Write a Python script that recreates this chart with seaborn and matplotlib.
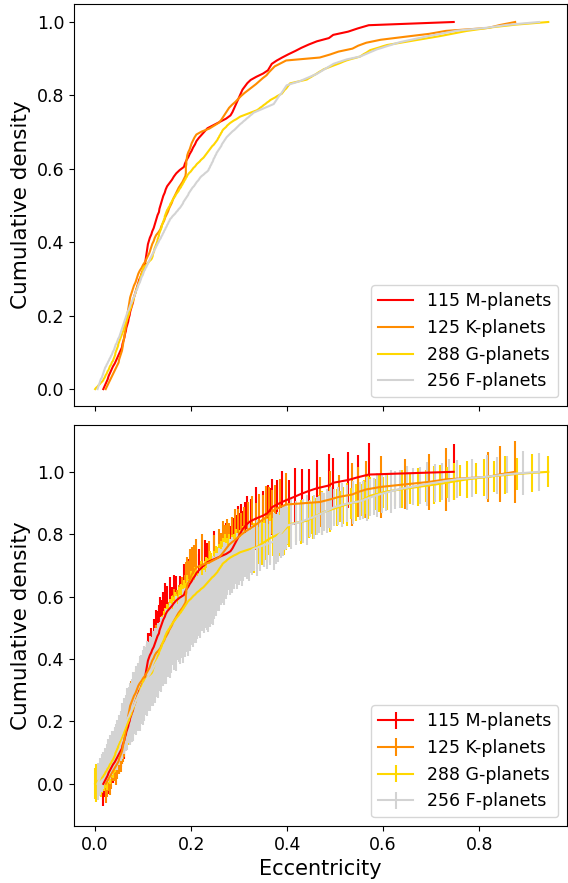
import numpy as np
import pandas as pd
import matplotlib
matplotlib.use("Agg")
import matplotlib.pyplot as plt
import seaborn as sns

# ---------------- data (sorted eccentricities) ----------------
labels = ["115 M-planets", "125 K-planets", "288 G-planets", "256 F-planets"]
colors = ["red", "darkorange", "gold", "lightgray"]

ecc_M = [0.017, 0.020, 0.023, 0.026, 0.028, 0.031, 0.034, 0.037, 0.041, 0.044,
         0.047, 0.050, 0.053, 0.056, 0.057, 0.059, 0.061, 0.062, 0.064, 0.065,
         0.067, 0.069, 0.070, 0.072, 0.073, 0.075, 0.077, 0.079, 0.080, 0.082,
         0.084, 0.086, 0.088, 0.090, 0.092, 0.095, 0.097, 0.100, 0.102, 0.104,
         0.105, 0.106, 0.107, 0.108, 0.109, 0.110, 0.112, 0.114, 0.117, 0.119,
         0.122, 0.124, 0.126, 0.128, 0.130, 0.133, 0.134, 0.136, 0.138, 0.140,
         0.142, 0.145, 0.147, 0.150, 0.155, 0.160, 0.164, 0.169, 0.176, 0.185,
         0.187, 0.190, 0.194, 0.197, 0.201, 0.204, 0.208, 0.211, 0.216, 0.222,
         0.228, 0.234, 0.247, 0.260, 0.273, 0.282, 0.286, 0.289, 0.292, 0.295,
         0.298, 0.301, 0.304, 0.307, 0.312, 0.317, 0.324, 0.336, 0.350, 0.360,
         0.364, 0.368, 0.378, 0.390, 0.403, 0.417, 0.430, 0.445, 0.462, 0.487,
         0.496, 0.527, 0.547, 0.570, 0.747]

ecc_K = [0.022, 0.025, 0.028, 0.031, 0.034, 0.037, 0.040, 0.043, 0.046, 0.049,
         0.050, 0.052, 0.054, 0.056, 0.057, 0.058, 0.059, 0.060, 0.061, 0.062,
         0.063, 0.064, 0.065, 0.066, 0.067, 0.067, 0.068, 0.069, 0.070, 0.071,
         0.072, 0.073, 0.075, 0.077, 0.079, 0.081, 0.084, 0.086, 0.088, 0.090,
         0.093, 0.097, 0.100, 0.104, 0.107, 0.110, 0.113, 0.115, 0.117, 0.119,
         0.122, 0.124, 0.127, 0.132, 0.136, 0.138, 0.141, 0.144, 0.146, 0.149,
         0.152, 0.154, 0.157, 0.160, 0.162, 0.165, 0.168, 0.171, 0.174, 0.178,
         0.182, 0.185, 0.188, 0.189, 0.189, 0.189, 0.190, 0.190, 0.191, 0.192,
         0.194, 0.197, 0.199, 0.201, 0.204, 0.207, 0.211, 0.222, 0.238, 0.248,
         0.258, 0.263, 0.267, 0.271, 0.275, 0.279, 0.285, 0.292, 0.298, 0.304,
         0.311, 0.319, 0.327, 0.335, 0.342, 0.349, 0.357, 0.362, 0.368, 0.374,
         0.386, 0.398, 0.468, 0.489, 0.507, 0.536, 0.548, 0.565, 0.595, 0.645,
         0.696, 0.731, 0.819, 0.844, 0.875]

ecc_G = [0.000, 0.002, 0.005, 0.007, 0.010, 0.012, 0.015,
         0.017, 0.018, 0.020, 0.021, 0.022, 0.024, 0.025, 0.026, 0.028, 0.029, 0.030, 0.031, 0.033, 0.034, 0.035, 0.037,
         0.038, 0.039, 0.040, 0.041, 0.042, 0.042, 0.043, 0.044, 0.045, 0.046, 0.047, 0.048, 0.048, 0.049, 0.050, 0.051,
         0.052, 0.053, 0.054, 0.055, 0.056, 0.057, 0.058, 0.059, 0.060, 0.060, 0.061, 0.062, 0.063, 0.064, 0.065, 0.066, 0.067, 0.068,
         0.069, 0.070, 0.071, 0.071, 0.072, 0.073, 0.074, 0.075, 0.076, 0.076, 0.077, 0.078, 0.079, 0.080, 0.081, 0.081, 0.082,
         0.083, 0.084, 0.085, 0.085, 0.086, 0.087, 0.088, 0.089, 0.090, 0.091, 0.092, 0.093, 0.094, 0.094, 0.095, 0.096, 0.097, 0.098, 0.099, 0.099, 0.100,
         0.101, 0.103, 0.106, 0.108, 0.111, 0.113, 0.116,
         0.118, 0.119, 0.120, 0.120, 0.121, 0.122, 0.123, 0.123, 0.124, 0.125, 0.126, 0.127, 0.128, 0.129, 0.130, 0.130, 0.131, 0.132, 0.133, 0.133, 0.134,
         0.135, 0.136, 0.137, 0.138, 0.139, 0.139, 0.140, 0.141, 0.142, 0.143, 0.144, 0.145, 0.145, 0.146, 0.147, 0.148,
         0.149, 0.150, 0.152, 0.153, 0.155, 0.156, 0.157, 0.159, 0.160, 0.162,
         0.163, 0.165, 0.167, 0.168, 0.170, 0.172, 0.174, 0.175,
         0.177, 0.179, 0.180, 0.182, 0.183, 0.185, 0.186, 0.188, 0.189, 0.191, 0.192,
         0.194, 0.196, 0.199, 0.201, 0.203, 0.205, 0.208, 0.210,
         0.212, 0.215, 0.218, 0.220, 0.223,
         0.226, 0.228, 0.230, 0.232, 0.234, 0.236, 0.238,
         0.240, 0.242, 0.244, 0.247, 0.249, 0.251,
         0.253, 0.255, 0.256, 0.258, 0.259, 0.261, 0.262, 0.264, 0.265,
         0.267, 0.270, 0.273, 0.275, 0.278,
         0.281, 0.285, 0.289, 0.294, 0.298,
         0.302, 0.309, 0.316, 0.323, 0.330,
         0.337, 0.341, 0.344, 0.348, 0.351, 0.355, 0.358, 0.362,
         0.365, 0.370, 0.375, 0.379, 0.384,
         0.389, 0.391, 0.393, 0.395, 0.398, 0.400, 0.402, 0.404,
         0.406, 0.418, 0.429,
         0.441, 0.445, 0.450, 0.454, 0.459, 0.463, 0.467, 0.472,
         0.476, 0.483, 0.490,
         0.497, 0.504, 0.511, 0.517,
         0.524, 0.533, 0.543,
         0.552, 0.556, 0.560, 0.565, 0.569,
         0.573, 0.582, 0.591, 0.599,
         0.608, 0.624, 0.640,
         0.656, 0.672, 0.689,
         0.705, 0.719, 0.733,
         0.747, 0.761,
         0.774, 0.793, 0.811,
         0.830, 0.854,
         0.878, 0.911,
         0.944]

ecc_F = [0.005, 0.006, 0.007, 0.008, 0.009, 0.010, 0.011, 0.012, 0.014, 0.015, 0.016, 0.017, 0.018, 0.019, 0.020,
         0.021, 0.023, 0.024, 0.026, 0.027, 0.029, 0.030, 0.032, 0.033,
         0.035, 0.036, 0.037, 0.039, 0.040, 0.041, 0.042, 0.043, 0.045, 0.046, 0.047, 0.048, 0.050, 0.051,
         0.052, 0.053, 0.054, 0.055, 0.056, 0.057, 0.058, 0.059, 0.060, 0.061, 0.062, 0.063, 0.064, 0.065,
         0.066, 0.067, 0.068, 0.070, 0.071, 0.072, 0.073, 0.074, 0.076, 0.077, 0.078, 0.079, 0.081, 0.082,
         0.083, 0.084, 0.085, 0.087, 0.088, 0.089, 0.090, 0.091, 0.093, 0.094, 0.095, 0.096, 0.097, 0.099, 0.100,
         0.101, 0.102, 0.104, 0.105, 0.107, 0.108, 0.110, 0.111, 0.112, 0.114, 0.115, 0.117,
         0.118, 0.120, 0.121, 0.123, 0.124, 0.126, 0.127, 0.129, 0.130, 0.132, 0.133,
         0.135, 0.137, 0.138, 0.140, 0.141, 0.143, 0.144, 0.146, 0.147, 0.149, 0.150, 0.152, 0.153, 0.155,
         0.156, 0.159, 0.161, 0.164, 0.167, 0.169, 0.172, 0.174,
         0.177, 0.179, 0.181, 0.183, 0.184, 0.186, 0.188, 0.190, 0.192, 0.194, 0.195, 0.197, 0.199,
         0.201, 0.203, 0.206, 0.208, 0.210, 0.212, 0.215, 0.217,
         0.219, 0.222, 0.226, 0.229, 0.233,
         0.236, 0.237, 0.239, 0.240, 0.242, 0.243, 0.245, 0.246, 0.247, 0.249, 0.250, 0.252,
         0.253, 0.255, 0.257, 0.259, 0.261, 0.263, 0.264, 0.266, 0.268, 0.270, 0.272,
         0.274, 0.277, 0.280, 0.283, 0.286, 0.290, 0.293, 0.296, 0.299,
         0.302, 0.306, 0.309, 0.313, 0.316, 0.320, 0.323, 0.327,
         0.330, 0.337, 0.344, 0.351, 0.358, 0.365,
         0.372, 0.374, 0.376, 0.378, 0.380, 0.382, 0.384, 0.387, 0.389, 0.391, 0.393, 0.395, 0.397,
         0.399, 0.408, 0.418,
         0.427, 0.434, 0.441, 0.448, 0.455,
         0.462, 0.467, 0.472, 0.477, 0.482, 0.487, 0.492,
         0.497, 0.506, 0.515,
         0.524, 0.538,
         0.552, 0.559, 0.566, 0.573, 0.580,
         0.587, 0.597, 0.606, 0.616, 0.625,
         0.635, 0.649, 0.663, 0.677,
         0.691, 0.707, 0.723, 0.738,
         0.754, 0.785,
         0.816, 0.837,
         0.858, 0.891,
         0.925]

# eccentricity uncertainties in hundredths, one per planet
err_M = [7, 5, 4, 6, 3, 5, 4, 6, 5, 3, 4, 6, 5, 3, 4, 5, 6, 4, 3, 5,
         4, 6, 5, 7, 4, 5, 6, 3, 5, 6, 5, 4, 7, 6, 5, 8, 4, 6, 7, 5,
         6, 8, 5, 7, 6, 9, 5, 7, 8, 6, 9, 7, 10, 6, 8, 9, 7, 10, 8, 6,
         9, 11, 7, 8, 10, 6, 9, 8, 7, 10, 6, 8, 9, 7, 5, 8, 10, 6, 7, 9,
         8, 6, 9, 7, 10, 8, 6, 9, 7, 8, 10, 7, 9, 6, 8, 9, 7, 10, 8, 9,
         7, 9, 8, 10, 6, 9, 8, 7, 9, 10, 8, 9, 7, 10, 9]
err_K = [6, 5, 4, 6, 5, 3, 4, 6, 5, 4, 5, 3, 6, 4, 5, 4, 6, 5, 3, 4,
         5, 6, 4, 5, 3, 6, 5, 4, 6, 5, 4, 5, 7, 6, 4, 5, 6, 7, 5, 6,
         7, 5, 6, 8, 6, 7, 5, 8, 6, 7, 8, 6, 9, 7, 8, 6, 9, 7, 8, 10,
         7, 9, 8, 6, 9, 10, 7, 8, 9, 7, 10, 8, 9, 6, 8, 10, 7, 9, 8, 9,
         7, 10, 8, 9, 6, 8, 9, 10, 7, 8, 9, 7, 10, 8, 9, 7, 8, 10, 9, 7,
         8, 9, 10, 7, 9, 8, 10, 9, 7, 8, 9, 10, 8, 9, 7, 10, 8, 9, 10, 8,
         9, 10, 8, 9, 10]
err_G = [5, 6, 4, 5, 3, 6, 5, 4, 5, 3, 4, 5, 6, 3, 4, 5, 4, 6, 5, 4,
         3, 5, 4, 6, 5, 4, 3, 5, 6, 4, 5, 4, 6, 5, 3, 4, 5, 6, 4, 5,
         6, 4, 5, 7, 5, 6, 4, 5, 6, 7, 5, 6, 7, 4, 6, 5, 7, 6, 5, 8,
         6, 7, 5, 6, 8, 5, 7, 6, 8, 7, 5, 7, 8, 6, 7, 5, 8, 7, 6, 9,
         7, 6, 8, 9, 6, 7, 8, 6, 9, 7, 8, 6, 7, 9, 8, 6, 7, 9, 8, 7,
         6, 8, 9, 7, 6, 8, 7, 9, 6, 8, 7, 9, 8, 6, 8, 7, 9, 8, 6, 7,
         8, 7, 9, 6, 8, 9, 7, 8, 6, 9, 7, 8, 6, 9, 7, 8, 9, 6, 8, 7,
         9, 7, 8, 6, 9, 8, 7, 9, 6, 8, 7, 9, 8, 7, 6, 9, 8, 7, 9, 6,
         8, 7, 9, 8, 6, 7, 9, 8, 7, 6, 9, 8, 6, 7, 9, 8, 7, 6, 8, 9,
         7, 6, 8, 9, 7, 8, 6, 7, 9, 8, 6, 8, 7, 9, 6, 8, 7, 6, 8, 7,
         8, 6, 7, 8, 9, 6, 7, 8, 6, 7, 7, 8, 6, 7, 8, 6, 7, 8, 7, 6,
         6, 7, 8, 6, 7, 5, 8, 6, 7, 6, 7, 5, 6, 8, 6, 7, 5, 6, 7, 5,
         6, 7, 5, 6, 5, 7, 6, 5, 6, 7, 5, 6, 7, 5, 6, 5, 6, 7, 5, 6,
         6, 5, 6, 5, 7, 6, 5, 6, 5, 6, 5, 6, 5, 6, 5, 6, 6, 5, 6, 5,
         6, 5, 6, 5, 6, 5, 6, 5]
err_F = [5, 4, 6, 5, 4, 5, 6, 4, 5, 6, 5, 6, 4, 5, 6, 5, 4, 6, 5, 7,
         6, 5, 7, 6, 5, 7, 6, 5, 6, 7, 6, 7, 8, 6, 7, 5, 8, 7, 6, 8,
         7, 8, 6, 9, 7, 8, 6, 9, 8, 7, 9, 7, 8, 10, 8, 7, 9, 10, 8, 9,
         10, 8, 9, 11, 9, 8, 10, 9, 11, 10, 9, 11, 10, 8, 12, 10, 9, 11, 10, 12,
         11, 9, 12, 10, 11, 9, 12, 10, 11, 9, 12, 10, 11, 9, 12, 11, 10, 12, 9, 11,
         10, 12, 11, 9, 11, 10, 12, 10, 11, 9, 11, 10, 12, 9, 10, 11, 9, 12, 10, 11,
         9, 11, 10, 12, 9, 10, 11, 9, 10, 12, 10, 9, 11, 10, 9, 12, 10, 11, 9, 10,
         11, 10, 9, 11, 10, 9, 10, 11, 9, 10, 9, 10, 11, 9, 10, 8, 10, 9, 11, 8,
         10, 9, 8, 10, 9, 8, 9, 10, 8, 9, 8, 9, 10, 8, 9, 8, 7, 9, 8, 9,
         8, 7, 9, 8, 7, 9, 8, 7, 8, 9, 7, 8, 7, 9, 8, 7, 8, 7, 9, 7,
         8, 7, 8, 7, 6, 8, 7, 8, 6, 7, 7, 6, 8, 7, 6, 7, 8, 6, 7, 6,
         6, 7, 6, 7, 6, 7, 6, 6, 7, 6, 7, 6, 6, 7, 6, 6, 7, 6, 6, 7,
         6, 6, 7, 6, 6, 7, 6, 6, 7, 6, 6, 7, 6, 6, 7, 6]

eccs = [ecc_M, ecc_K, ecc_G, ecc_F]
errs = [err_M, err_K, err_G, err_F]
lens = [(len(a), len(b)) for a, b in zip(eccs, errs)]
if any(a != b for a, b in lens):
    raise ValueError(f"length mismatch {lens}")

# ---------------- long table ----------------
frames = []
for lab, e, er in zip(labels, eccs, errs):
    e = np.asarray(e, dtype=float)
    n = len(e)
    frames.append(pd.DataFrame({
        "group": lab,
        "ecc": e,
        "cdf": np.arange(n) / (n - 1),
        "err": np.asarray(er, dtype=float) / 100.0,
    }))
df = pd.concat(frames, ignore_index=True)
palette = dict(zip(labels, colors))

# ---------------- figure ----------------
fig = plt.figure(figsize=(5.68, 8.83), dpi=100)
ax1 = fig.add_axes([74 / 568, 1 - 406 / 883, (567 - 74) / 568, (406 - 4) / 883])
ax2 = fig.add_axes([74 / 568, 1 - 826 / 883, (567 - 74) / 568, (826 - 425) / 883], sharex=ax1)

sns.lineplot(data=df, x="ecc", y="cdf", hue="group", palette=palette,
             hue_order=labels, estimator=None, errorbar=None, sort=False,
             linewidth=1.5, ax=ax1)
ax1.legend(loc="lower right", fontsize=12.5)
ax1.set_xlabel("")
ax1.set_ylabel("Cumulative density", fontsize=15.5)
ax1.tick_params(labelbottom=False, labelsize=12.5)
ax1.set_ylim(-0.046, 1.049)

for lab in labels:
    sub = df[df["group"] == lab]
    ax2.errorbar(sub["ecc"], sub["cdf"], yerr=sub["err"], color=palette[lab],
                 linewidth=1.5, elinewidth=1.5, label=lab)
ax2.legend(loc="lower right", fontsize=12.5)
ax2.set_xlabel("Eccentricity", fontsize=15)
ax2.set_ylabel("Cumulative density", fontsize=15.5)
ax2.tick_params(labelsize=12.5)
ax2.set_ylim(-0.135, 1.15)
ax2.set_xlim(-0.044, 0.983)
ax2.set_xticks([0.0, 0.2, 0.4, 0.6, 0.8])
ax1.set_yticks([0.0, 0.2, 0.4, 0.6, 0.8, 1.0])
ax2.set_yticks([0.0, 0.2, 0.4, 0.6, 0.8, 1.0])

fig.savefig("out.png", dpi=100)
